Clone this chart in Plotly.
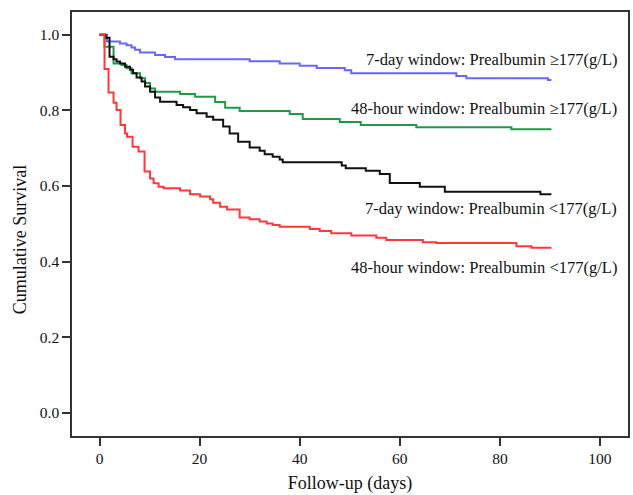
import plotly.graph_objects as go

# Kaplan-Meier step curves: event times (days) and survival after each step.
blue_t = [0, 1.5, 4.1, 5.4, 6.4, 7.1, 8.1, 11.1, 13.1, 15.1, 30.0, 36.0, 40.0, 43.4, 49.0, 50.3, 71.3, 73.3, 89.6, 90.3]
blue_s = [1.0, 0.982, 0.977, 0.972, 0.966, 0.960, 0.953, 0.946, 0.941, 0.935, 0.930, 0.924, 0.918, 0.912, 0.906, 0.898, 0.891, 0.885, 0.880, 0.880]

green_t = [0, 1.0, 2.8, 4.4, 5.4, 6.4, 8.1, 9.1, 10.1, 11.1, 16.1, 19.1, 23.1, 25.1, 28.0, 38.0, 40.6, 48.0, 52.2, 63.3, 82.3, 90.3]
green_s = [1.0, 0.968, 0.924, 0.920, 0.911, 0.898, 0.885, 0.872, 0.858, 0.849, 0.843, 0.836, 0.822, 0.807, 0.798, 0.790, 0.777, 0.769, 0.761, 0.755, 0.750, 0.750]

black_t = [0, 1.2, 2.0, 2.8, 3.4, 4.1, 5.1, 6.1, 6.7, 7.4, 8.4, 9.1, 10.1, 11.1, 12.1, 15.4, 16.7, 18.1, 19.4,
           21.4, 22.7, 24.7, 26.0, 27.7, 30.0, 32.0, 33.0, 34.6, 36.0, 36.6, 48.4, 49.2, 53.2, 56.0, 58.0,
           64.0, 69.0, 88.1, 90.3]
black_s = [1.0, 0.992, 0.942, 0.935, 0.929, 0.924, 0.915, 0.907, 0.898, 0.887, 0.876, 0.863, 0.849, 0.834, 0.823,
           0.814, 0.808, 0.801, 0.792, 0.783, 0.775, 0.757, 0.739, 0.717, 0.702, 0.693, 0.684, 0.677, 0.670,
           0.663, 0.654, 0.647, 0.640, 0.632, 0.608, 0.598, 0.585, 0.578, 0.578]

red_t = [0, 1.0, 1.8, 2.8, 3.4, 4.2, 5.1, 5.5, 6.6, 7.8, 9.0, 10.1, 10.8, 11.8, 12.8, 16.1, 18.1, 20.1, 22.1,
         22.7, 24.1, 25.5, 28.0, 30.0, 32.0, 33.4, 34.6, 36.0, 42.0, 44.0, 46.3, 50.3, 55.3, 57.3, 64.6,
         67.3, 83.3, 86.3, 90.3]
red_s = [1.0, 0.909, 0.847, 0.820, 0.801, 0.761, 0.739, 0.730, 0.704, 0.691, 0.638, 0.620, 0.607, 0.598,
         0.594, 0.588, 0.578, 0.572, 0.565, 0.556, 0.545, 0.538, 0.517, 0.512, 0.506, 0.501, 0.497, 0.492,
         0.486, 0.481, 0.475, 0.469, 0.463, 0.457, 0.451, 0.449, 0.441, 0.437, 0.437]

series = [
    ("7-day window: Prealbumin \u2265177(g/L)", blue_t, blue_s, "#6767FF", 60),
    ("48-hour window: Prealbumin \u2265177(g/L)", green_t, green_s, "#1F9A47", 109),
    ("7-day window: Prealbumin <177(g/L)", black_t, black_s, "#111111", 208),
    ("48-hour window: Prealbumin <177(g/L)", red_t, red_s, "#FF3838", 267),
]

x_ticks = [0, 20, 40, 60, 80, 100]
y_ticks = [0.0, 0.2, 0.4, 0.6, 0.8, 1.0]

FONT = "Liberation Serif, Times New Roman, serif"
W, H = 633, 495
L, R, T, B = 72, 3, 12, 59

fig = go.Figure()
for name, t, s, color, _ in series:
    fig.add_trace(go.Scatter(x=t, y=s, mode="lines", line=dict(color=color, width=2, shape="hv"),
                             name=name, showlegend=False))

# Curve labels placed on the right side of the panel (pixel rows)
for name, _, _, _, ypix in series:
    fig.add_annotation(text=name, xref="paper", yref="paper", xanchor="right", yanchor="middle",
                       x=(621 - L) / (W - L - R), y=1 - (ypix - T) / (H - T - B),
                       showarrow=False, font=dict(family=FONT, size=16.5, color="#111"))

fig.update_layout(
    width=W, height=H,
    margin=dict(l=L, r=R, t=T, b=B),
    paper_bgcolor="white", plot_bgcolor="white",
    font=dict(family=FONT, size=15, color="#111"),
    xaxis=dict(range=[-5.5, 105.6], tickvals=x_ticks, ticktext=[str(v) for v in x_ticks],
               showgrid=False, zeroline=False, showline=True, mirror=True,
               linecolor="#333", linewidth=1.5, ticks="outside", ticklen=8, tickcolor="#333",
               tickwidth=1.5, tickfont=dict(family=FONT, size=15.5),
               title=dict(text="Follow-up (days)", font=dict(family=FONT, size=18), standoff=10)),
    yaxis=dict(range=[-0.061, 1.06], tickvals=y_ticks, ticktext=[f"{v:.1f}" for v in y_ticks],
               showgrid=False, zeroline=False, showline=True, mirror=True,
               linecolor="#333", linewidth=1.5, ticks="outside", ticklen=8, tickcolor="#333",
               tickwidth=1.5, tickfont=dict(family=FONT, size=15.5)),
)

fig.add_annotation(text="Cumulative Survival", xref="paper", yref="paper",
                   x=-(L - 20) / (W - L - R), y=1 - (240 - T) / (H - T - B), textangle=-90,
                   xanchor="center", yanchor="middle", showarrow=False,
                   font=dict(family=FONT, size=18, color="#111"))

fig.write_html("out.html")
